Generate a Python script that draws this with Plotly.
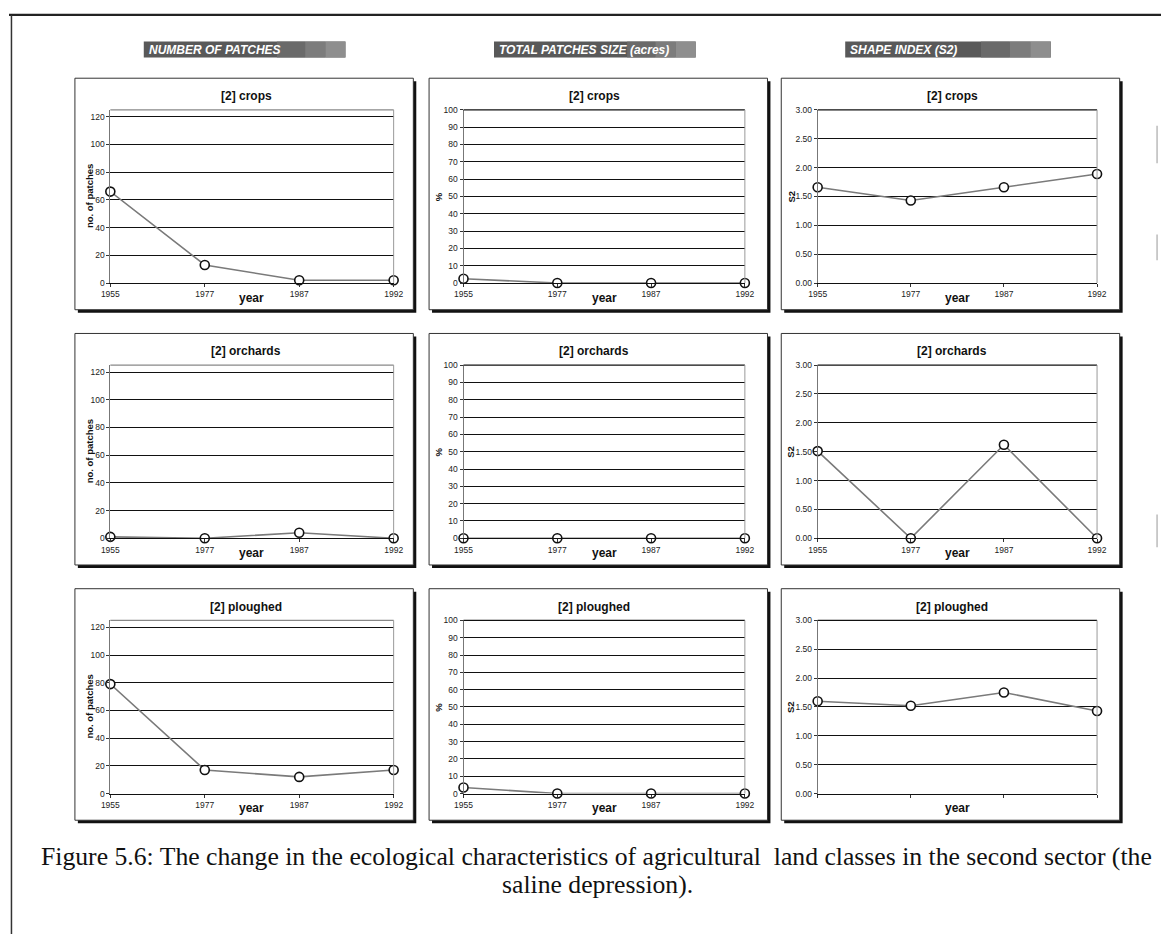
import plotly.graph_objects as go

# ---------------- data ----------------
years = ["1955", "1977", "1987", "1992"]

patches_crops = [66, 13, 2, 2]
patches_orchards = [1, 0, 4, 0]
patches_ploughed = [79, 17, 12, 17]

size_crops = [2.5, 0, 0, 0]
size_orchards = [0, 0, 0, 0]
size_ploughed = [3.5, 0, 0, 0]

shape_crops = [1.66, 1.43, 1.66, 1.89]
shape_orchards = [1.51, 0.0, 1.62, 0.0]
shape_ploughed = [1.60, 1.52, 1.75, 1.43]

classes = ["crops", "orchards", "ploughed"]
column_headers = ["NUMBER OF PATCHES", "TOTAL PATCHES SIZE (acres)", "SHAPE INDEX (S2)"]
y_titles = ["no. of patches", "%", "S2"]
caption_1 = ("Figure 5.6: The change in the ecological characteristics of agricultural "
             " land classes in the second sector (the")
caption_2 = "saline depression)."

series = [
    [patches_crops, size_crops, shape_crops],
    [patches_orchards, size_orchards, shape_orchards],
    [patches_ploughed, size_ploughed, shape_ploughed],
]

# ---------------- layout geometry (pixels) ----------------
W, H = 1171, 939
row_tops = [74, 332, 590]
box_lefts = [67, 427, 785]
box_w, box_h = 344, 234
plot_x = [(103, 391), (462, 748), (822, 1106)]
ytitle_off = [21, 25, 27]
plot_top_off, plot_bot_off = 32, 207

def px(x):
    return x / W

def py(y):
    return 1 - y / H

FONT = "Liberation Sans"
y_ranges = [[0, 125], [0, 100], [0, 3]]
y_ticks = [list(range(0, 121, 20)), list(range(0, 101, 10)), [0, 0.5, 1, 1.5, 2, 2.5, 3]]
y_fmt = ["", "", ".2f"]

fig = go.Figure()
shapes = []
annotations = []

# outer frame
shapes.append(dict(type="line", xref="paper", yref="paper", x0=0, x1=1, y0=py(10), y1=py(10),
                   line=dict(color="#222", width=2.2)))
shapes.append(dict(type="line", xref="paper", yref="paper", x0=px(2.5), x1=px(2.5), y0=py(10), y1=0,
                   line=dict(color="#333", width=1.5)))
for (ya, yb) in [(122, 160), (232, 258), (515, 548)]:
    shapes.append(dict(type="line", xref="paper", yref="paper", x0=px(1167), x1=px(1167),
                       y0=py(ya), y1=py(yb), line=dict(color="#bbb", width=1.5)))

# column banners
banner_x = [(137, 342), (493, 698), (850, 1059)]
for c, (bx0, bx1) in enumerate(banner_x):
    shapes.append(dict(type="rect", xref="paper", yref="paper", x0=px(bx0), x1=px(bx1),
                       y0=py(53), y1=py(37), fillcolor="#595959", line=dict(width=0), layer="below"))
    wdt = bx1 - bx0
    for frac0, frac1, col in [(0.66, 0.8, "#6a6a6a"), (0.8, 0.9, "#7c7c7c"), (0.9, 1.0, "#8e8e8e")]:
        shapes.append(dict(type="rect", xref="paper", yref="paper", x0=px(bx0 + frac0 * wdt),
                           x1=px(bx0 + frac1 * wdt), y0=py(53), y1=py(37), fillcolor=col,
                           line=dict(width=0), layer="below"))
    annotations.append(dict(text="<b><i>" + column_headers[c] + "</i></b>", xref="paper", yref="paper",
                            x=px(bx0 + 3), y=py(45), xanchor="left", yanchor="middle", showarrow=False,
                            font=dict(family=FONT, size=12, color="white")))

k = 0
for r in range(3):
    top = row_tops[r]
    for c in range(3):
        k += 1
        sfx = "" if k == 1 else str(k)
        bl = box_lefts[c]
        # panel box with shadow
        shapes.append(dict(type="rect", xref="paper", yref="paper", x0=px(bl + 3), x1=px(bl + box_w + 3),
                           y0=py(top + box_h + 3), y1=py(top + 3), fillcolor="#111",
                           line=dict(width=0), layer="below"))
        shapes.append(dict(type="rect", xref="paper", yref="paper", x0=px(bl), x1=px(bl + box_w),
                           y0=py(top + box_h), y1=py(top), fillcolor="white",
                           line=dict(color="#333", width=1), layer="below"))
        x0, x1 = plot_x[c]
        ptop, pbot = top + plot_top_off, top + plot_bot_off
        vals = series[r][c]
        fig.add_trace(go.Scatter(
            x=list(range(len(years))), y=vals, mode="lines+markers",
            line=dict(color="#7a7a7a", width=1.6),
            marker=dict(symbol="circle", size=9, color="white", line=dict(color="#111", width=1.6)),
            cliponaxis=False, showlegend=False,
            xaxis="x" + sfx, yaxis="y" + sfx))
        fig.layout["xaxis" + sfx] = dict(
            domain=[px(x0), px(x1)], anchor="y" + sfx, range=[0, 3],
            tickvals=list(range(len(years))), ticktext=years,
            showticklabels=not (r == 2 and c == 2),
            showgrid=False, zeroline=False, showline=True, linecolor="#111", linewidth=1.3,
            ticks="outside", ticklen=3, tickcolor="#333",
            tickfont=dict(family=FONT, size=8.5, color="#222"), fixedrange=True)
        fig.layout["yaxis" + sfx] = dict(
            domain=[py(pbot), py(ptop)], anchor="x" + sfx, range=y_ranges[c],
            tickvals=y_ticks[c], tickformat=y_fmt[c],
            showgrid=True, gridcolor="#111", gridwidth=1.1, zeroline=False,
            showline=True, linecolor="#777", linewidth=1,
            ticks="outside", ticklen=3, tickcolor="#333",
            tickfont=dict(family=FONT, size=8.5, color="#222"), fixedrange=True)
        # frame: top and right
        shapes.append(dict(type="line", xref="x" + sfx + " domain", yref="y" + sfx + " domain",
                           x0=0, x1=1, y0=1, y1=1,
                           line=dict(color="#888" if c == 0 else "#111", width=1.1)))
        shapes.append(dict(type="line", xref="x" + sfx + " domain", yref="y" + sfx + " domain",
                           x0=1, x1=1, y0=0, y1=1, line=dict(color="#999", width=1)))
        # panel title
        annotations.append(dict(text="<b>[2] " + classes[r] + "</b>", xref="paper", yref="paper",
                                x=px(bl + box_w / 2 + (2 if c != 1 else -4)), y=py(top + 18),
                                xanchor="center", yanchor="middle", showarrow=False,
                                font=dict(family=FONT, size=12, color="#111")))
        # year label
        annotations.append(dict(text="<b>year</b>", xref="paper", yref="paper",
                                x=px((x0 + x1) / 2), y=py(pbot + 15),
                                xanchor="center", yanchor="middle", showarrow=False,
                                font=dict(family=FONT, size=12, color="#111")))
        # y-axis title
        annotations.append(dict(text="<b>" + y_titles[c] + "</b>", xref="paper", yref="paper",
                                x=px(x0 - ytitle_off[c]), y=py((ptop + pbot) / 2), textangle=-90,
                                xanchor="center", yanchor="middle", showarrow=False,
                                font=dict(family=FONT, size=9.5, color="#111")))

# caption
annotations.append(dict(text=caption_1, xref="paper", yref="paper", x=px(30), y=py(861),
                        xanchor="left", yanchor="middle", showarrow=False,
                        font=dict(family="Liberation Serif", size=25.7, color="#111")))
annotations.append(dict(text=caption_2, xref="paper", yref="paper", x=px(598), y=py(889),
                        xanchor="center", yanchor="middle", showarrow=False,
                        font=dict(family="Liberation Serif", size=25.7, color="#111")))

fig.update_layout(width=W, height=H, margin=dict(l=0, r=0, t=0, b=0),
                  paper_bgcolor="white", plot_bgcolor="rgba(0,0,0,0)",
                  shapes=shapes, annotations=annotations, showlegend=False)

fig.write_html("out.html", post_script="document.body.style.margin='0';")
